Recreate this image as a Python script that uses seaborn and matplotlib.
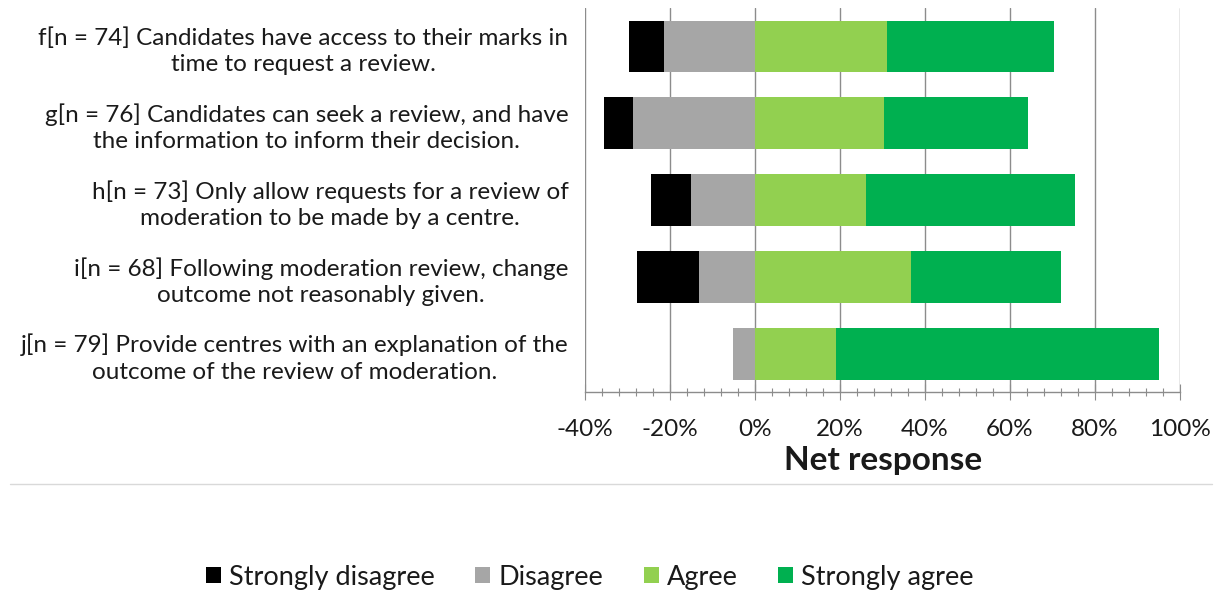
import matplotlib
matplotlib.use("Agg")
import matplotlib.pyplot as plt
import seaborn as sns
import pandas as pd
from matplotlib.lines import Line2D
from matplotlib.patches import Patch
from matplotlib.ticker import MultipleLocator, FuncFormatter

# Survey statements (two-line labels, top to bottom)
statements = [
    "f[n = 74] Candidates have access to their marks in\ntime to request a review.",
    "g[n = 76] Candidates can seek a review, and have\nthe information to inform their decision.",
    "h[n = 73] Only allow requests for a review of\nmoderation to be made by a centre.",
    "i[n = 68] Following moderation review, change\noutcome not reasonably given.",
    "j[n = 79] Provide centres with an explanation of the\noutcome of the review of moderation.",
]

# Response shares in percent
strongly_disagree = [8.2, 6.8, 9.6, 14.6, 0.0]
disagree = [21.5, 28.7, 15.0, 13.2, 5.1]
agree = [31.0, 30.4, 26.0, 36.7, 19.0]
strongly_agree = [39.4, 33.9, 49.2, 35.2, 76.1]

categories = ["Strongly disagree", "Disagree", "Agree", "Strongly agree"]
colors = ["#000000", "#A6A6A6", "#92D050", "#00B050"]

df = pd.DataFrame({
    "statement": statements,
    "sd": strongly_disagree,
    "d": disagree,
    "a": agree,
    "sa": strongly_agree,
})
# Diverging stacks: outer segments are drawn to the cumulative end, inner ones on top
df["neg_total"] = -(df["sd"] + df["d"])
df["neg_inner"] = -df["d"]
df["pos_total"] = df["a"] + df["sa"]
df["pos_inner"] = df["a"]

sns.set_theme(style="white")
plt.rcParams["font.family"] = ["Lato", "DejaVu Sans"]
text_color = "#1a1a1a"
grid_color = "#8c8c8c"

fig = plt.figure(figsize=(12.14, 5.90), dpi=100)
ax = fig.add_axes([0.482, 0.3356, 0.490, 0.6508])

bar_w = 0.675
for col, colr in [("neg_total", colors[0]), ("neg_inner", colors[1]),
                  ("pos_total", colors[3]), ("pos_inner", colors[2])]:
    sns.barplot(data=df, y="statement", x=col, color=colr, orient="h",
                width=bar_w, saturation=1, linewidth=0, ax=ax, zorder=3)

ax.set_xlim(-40, 100)
ax.set_ylim(4.5, -0.5)
ax.xaxis.set_major_locator(MultipleLocator(20))
ax.xaxis.set_minor_locator(MultipleLocator(4))
ax.xaxis.set_major_formatter(FuncFormatter(lambda v, p: f"{v:.0f}%"))
ax.grid(axis="x", which="major", color=grid_color, linewidth=1.0, zorder=0)
ax.set_axisbelow(True)

for side in ["top", "right"]:
    ax.spines[side].set_visible(False)
ax.spines["left"].set_visible(False)
ax.spines["bottom"].set_color(grid_color)
ax.spines["bottom"].set_linewidth(1.0)

ax.tick_params(axis="x", which="major", direction="inout", length=11,
               width=0.8, color=grid_color, labelsize=17.5, labelcolor=text_color, pad=14,
               bottom=True)
ax.tick_params(axis="x", which="minor", direction="inout", length=5.5,
               width=0.8, color=grid_color, bottom=True)
ax.tick_params(axis="y", length=0, pad=12, labelsize=17.5, labelcolor=text_color)
for lbl in ax.get_yticklabels():
    lbl.set_multialignment("center")
    lbl.set_linespacing(1.3)

ax.set_ylabel("")
ax.set_xlabel("Net response", fontsize=24, fontweight="bold", color=text_color, labelpad=4)

# Separator between chart and legend
fig.add_artist(Line2D([10 / 1214, 1212 / 1214], [0.1797, 0.1797],
                      transform=fig.transFigure, color="#d9d9d9", linewidth=1.0))

handles = [Patch(facecolor=c, edgecolor="none") for c in colors]
fig.legend(handles, categories, loc="center", bbox_to_anchor=(0.486, 0.022),
           ncol=4, frameon=False, fontsize=19.5, handlelength=0.55, handleheight=0.55,
           handletextpad=0.3, columnspacing=1.5, labelcolor=text_color)

fig.savefig("out.png", dpi=100)
